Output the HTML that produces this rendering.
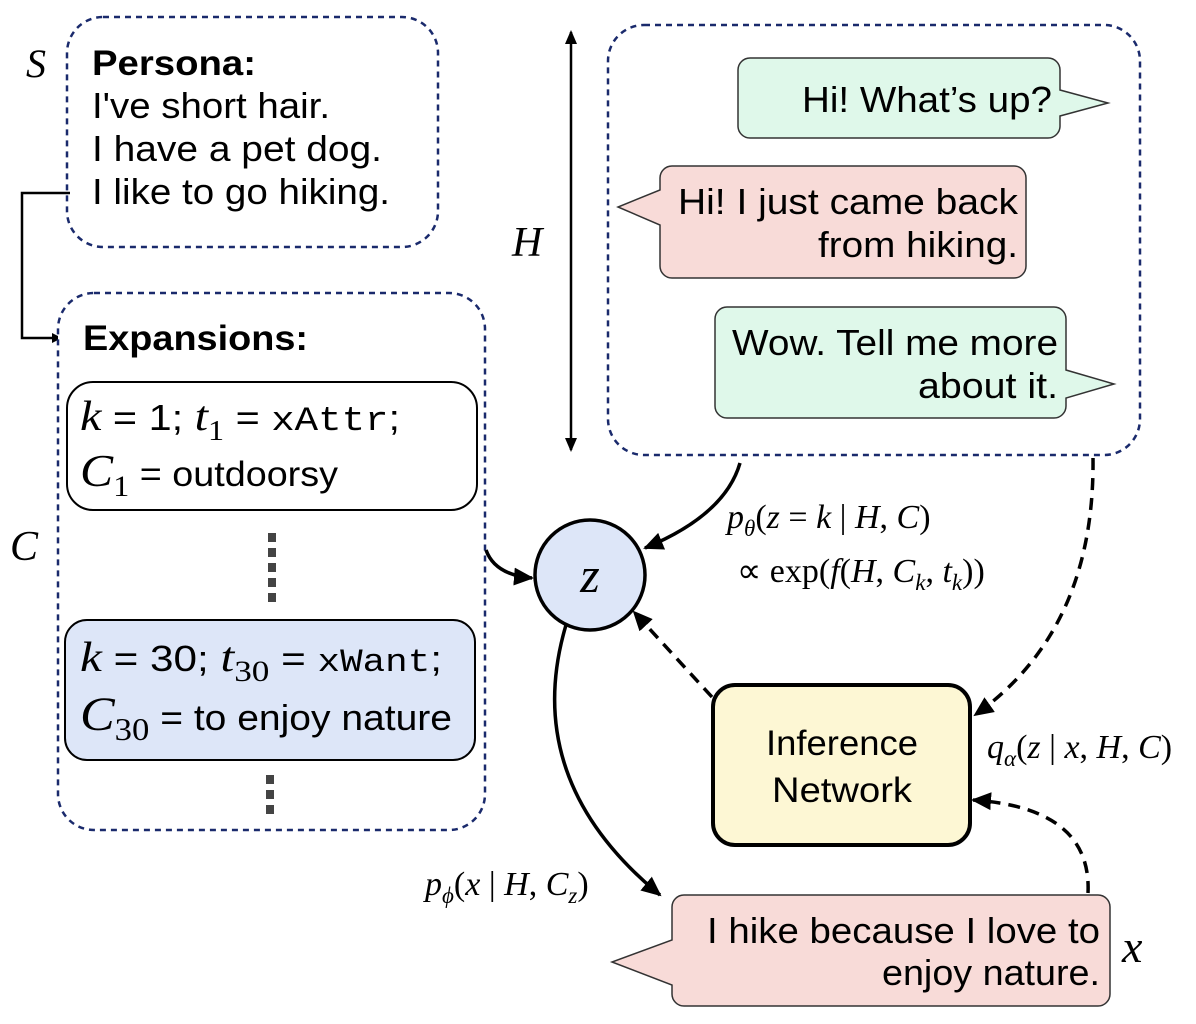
<!DOCTYPE html>
<html><head><meta charset="utf-8"><style>
html,body{margin:0;padding:0;background:#fff}
svg{display:block}
.s{font-family:"Liberation Sans",sans-serif}
.m{font-family:"Liberation Serif",serif;font-style:italic}
.r{font-family:"Liberation Serif",serif}
</style></head><body>
<svg width="1196" height="1024" viewBox="0 0 1196 1024" xmlns="http://www.w3.org/2000/svg">
<defs>
<marker id="a" markerWidth="10" markerHeight="10" refX="8" refY="5" orient="auto" markerUnits="userSpaceOnUse" viewBox="0 0 10 10"><path d="M0,0 L10,5 L0,10 z" fill="#000"/></marker>
<marker id="b" markerWidth="22" markerHeight="22" refX="18" refY="11" orient="auto" markerUnits="userSpaceOnUse" viewBox="0 0 22 22"><path d="M0,2 L20,11 L0,20 z" fill="#000"/></marker>
<marker id="c" markerWidth="14" markerHeight="14" refX="12" refY="7" orient="auto-start-reverse" markerUnits="userSpaceOnUse" viewBox="0 0 14 14"><path d="M0,1 L14,7 L0,13 z" fill="#000"/></marker>
</defs>

<rect x="67" y="17" width="371" height="230" rx="36" fill="#fff" stroke="#1a2a6c" stroke-width="2.5" stroke-dasharray="6,5"/>
<text x="26" y="77" class="m" font-size="40">S</text>
<text x="92" y="75" class="s" font-size="35" font-weight="bold" textLength="164" lengthAdjust="spacingAndGlyphs">Persona:</text>
<text x="92" y="118" class="s" font-size="36" textLength="238" lengthAdjust="spacingAndGlyphs">I've short hair.</text>
<text x="92" y="161" class="s" font-size="36" textLength="290" lengthAdjust="spacingAndGlyphs">I have a pet dog.</text>
<text x="92" y="204" class="s" font-size="36" textLength="298" lengthAdjust="spacingAndGlyphs">I like to go hiking.</text>
<path d="M70,193 H22 V338 H60" fill="none" stroke="#000" stroke-width="2.5" marker-end="url(#a)"/>

<rect x="58" y="293" width="427" height="537" rx="36" fill="#fff" stroke="#1a2a6c" stroke-width="2.5" stroke-dasharray="6,5"/>
<text x="10" y="560" class="m" font-size="42">C</text>
<text x="83" y="350" class="s" font-size="35" font-weight="bold" textLength="225" lengthAdjust="spacingAndGlyphs">Expansions:</text>
<rect x="67" y="382" width="410" height="128" rx="26" fill="#fff" stroke="#000" stroke-width="2"/>
<text x="80" y="430" font-size="42" textLength="320" lengthAdjust="spacingAndGlyphs"><tspan class="m">k</tspan><tspan class="s" font-size="36"> = 1; </tspan><tspan class="m">t</tspan><tspan class="r" font-size="28" dy="10">1</tspan><tspan class="s" font-size="36" dy="-10"> = </tspan><tspan font-family="Liberation Mono,monospace" font-size="34">xAttr</tspan><tspan class="s" font-size="36">;</tspan></text>
<text x="80" y="486" font-size="46" textLength="258" lengthAdjust="spacingAndGlyphs"><tspan class="m">C</tspan><tspan class="r" font-size="30" dy="10">1</tspan><tspan class="s" font-size="35" dy="-10"> = outdoorsy</tspan></text>
<line x1="272" y1="533" x2="272" y2="605" stroke="#444" stroke-width="8" stroke-dasharray="9,6"/>
<rect x="65" y="620" width="410" height="140" rx="22" fill="#dde6f8" stroke="#000" stroke-width="2"/>
<text x="80" y="671" font-size="42" textLength="362" lengthAdjust="spacingAndGlyphs"><tspan class="m">k</tspan><tspan class="s" font-size="36"> = 30; </tspan><tspan class="m">t</tspan><tspan class="r" font-size="30" dy="10">30</tspan><tspan class="s" font-size="36" dy="-10"> = </tspan><tspan font-family="Liberation Mono,monospace" font-size="32">xWant</tspan><tspan class="s" font-size="36">;</tspan></text>
<text x="80" y="730" font-size="48" textLength="372" lengthAdjust="spacingAndGlyphs"><tspan class="m">C</tspan><tspan class="r" font-size="32" dy="10">30</tspan><tspan class="s" font-size="36" dy="-10"> = to enjoy nature</tspan></text>
<line x1="270" y1="775" x2="270" y2="817" stroke="#444" stroke-width="8" stroke-dasharray="9,6"/>

<line x1="571" y1="32" x2="571" y2="450" stroke="#000" stroke-width="2.5" marker-start="url(#c)" marker-end="url(#c)"/>
<text x="512" y="256" class="m" font-size="42">H</text>
<rect x="608" y="25" width="532" height="430" rx="36" fill="#fff" stroke="#1a2a6c" stroke-width="2.5" stroke-dasharray="6,5"/>

<path d="M750,58 H1048 a12,12 0 0 1 12,12 V90 L1108,103 L1060,116 V126 a12,12 0 0 1 -12,12 H750 a12,12 0 0 1 -12,-12 V70 a12,12 0 0 1 12,-12z" fill="#dff8ea" stroke="#333" stroke-width="1.5"/>
<text x="1052" y="112" text-anchor="end" class="s" font-size="36" textLength="250" lengthAdjust="spacingAndGlyphs">Hi! What’s up?</text>
<path d="M672,166 H1014 a12,12 0 0 1 12,12 V266 a12,12 0 0 1 -12,12 H672 a12,12 0 0 1 -12,-12 V225 L618,207 L660,190 V178 a12,12 0 0 1 12,-12z" fill="#f8dbd8" stroke="#333" stroke-width="1.5"/>
<text x="1018" y="214" text-anchor="end" class="s" font-size="36" textLength="340" lengthAdjust="spacingAndGlyphs">Hi! I just came back</text>
<text x="1018" y="257" text-anchor="end" class="s" font-size="36" textLength="200" lengthAdjust="spacingAndGlyphs">from hiking.</text>
<path d="M727,307 H1054 a12,12 0 0 1 12,12 V370 L1114,384 L1066,398 V406 a12,12 0 0 1 -12,12 H727 a12,12 0 0 1 -12,-12 V319 a12,12 0 0 1 12,-12z" fill="#dff8ea" stroke="#333" stroke-width="1.5"/>
<text x="1058" y="355" text-anchor="end" class="s" font-size="36" textLength="326" lengthAdjust="spacingAndGlyphs">Wow. Tell me more</text>
<text x="1058" y="398" text-anchor="end" class="s" font-size="36" textLength="140" lengthAdjust="spacingAndGlyphs">about it.</text>

<circle cx="590" cy="575" r="55" fill="#dde6f8" stroke="#000" stroke-width="3.5"/>
<text x="590" y="592" text-anchor="middle" class="m" font-size="50">z</text>
<path d="M486,550 Q495,575 532,578" fill="none" stroke="#000" stroke-width="3.5" marker-end="url(#b)"/>
<path d="M740,463 Q725,515 645,548" fill="none" stroke="#000" stroke-width="3.5" marker-end="url(#b)"/>
<text x="727" y="528" font-size="34"><tspan class="m">p</tspan><tspan class="m" font-size="23" dy="8">θ</tspan><tspan class="r" dy="-8">(</tspan><tspan class="m">z</tspan><tspan class="r"> = </tspan><tspan class="m">k</tspan><tspan class="r"> | </tspan><tspan class="m">H</tspan><tspan class="r">, </tspan><tspan class="m">C</tspan><tspan class="r">)</tspan></text>
<text x="737" y="582" font-size="34"><tspan class="r">∝ exp(</tspan><tspan class="m">f</tspan><tspan class="r">(</tspan><tspan class="m">H</tspan><tspan class="r">, </tspan><tspan class="m">C</tspan><tspan class="m" font-size="23" dy="8">k</tspan><tspan class="r" dy="-8">, </tspan><tspan class="m">t</tspan><tspan class="m" font-size="23" dy="8">k</tspan><tspan class="r" dy="-8">))</tspan></text>

<rect x="713" y="685" width="257" height="160" rx="22" fill="#fdf7d4" stroke="#000" stroke-width="4"/>
<text x="842" y="755" text-anchor="middle" class="s" font-size="35" textLength="152" lengthAdjust="spacingAndGlyphs">Inference</text>
<text x="842" y="802" text-anchor="middle" class="s" font-size="35" textLength="140" lengthAdjust="spacingAndGlyphs">Network</text>
<path d="M712,697 L634,612" fill="none" stroke="#000" stroke-width="3.5" stroke-dasharray="12,8" marker-end="url(#b)"/>
<path d="M1093,458 Q1095,630 975,715" fill="none" stroke="#000" stroke-width="3.5" stroke-dasharray="12,8" marker-end="url(#b)"/>
<text x="987" y="758" font-size="34"><tspan class="m">q</tspan><tspan class="m" font-size="23" dy="8">α</tspan><tspan class="r" dy="-8">(</tspan><tspan class="m">z</tspan><tspan class="r"> | </tspan><tspan class="m">x</tspan><tspan class="r">, </tspan><tspan class="m">H</tspan><tspan class="r">, </tspan><tspan class="m">C</tspan><tspan class="r">)</tspan></text>
<path d="M1088,893 Q1092,808 973,800" fill="none" stroke="#000" stroke-width="3.5" stroke-dasharray="12,8" marker-end="url(#b)"/>

<path d="M566,625 Q520,780 660,895" fill="none" stroke="#000" stroke-width="3.5" marker-end="url(#b)"/>
<text x="425" y="895" font-size="34"><tspan class="m">p</tspan><tspan class="m" font-size="23" dy="8">ϕ</tspan><tspan class="r" dy="-8">(</tspan><tspan class="m">x</tspan><tspan class="r"> | </tspan><tspan class="m">H</tspan><tspan class="r">, </tspan><tspan class="m">C</tspan><tspan class="m" font-size="23" dy="8">z</tspan><tspan class="r" dy="-8">)</tspan></text>

<path d="M684,895 H1098 a12,12 0 0 1 12,12 V994 a12,12 0 0 1 -12,12 H684 a12,12 0 0 1 -12,-12 V985 L612,962 L672,940 V907 a12,12 0 0 1 12,-12z" fill="#f8dbd8" stroke="#333" stroke-width="1.5"/>
<text x="1100" y="943" text-anchor="end" class="s" font-size="36" textLength="393" lengthAdjust="spacingAndGlyphs">I hike because I love to</text>
<text x="1100" y="985" text-anchor="end" class="s" font-size="36" textLength="218" lengthAdjust="spacingAndGlyphs">enjoy nature.</text>
<text x="1122" y="962" class="m" font-size="46">x</text>
</svg>
</body></html>
